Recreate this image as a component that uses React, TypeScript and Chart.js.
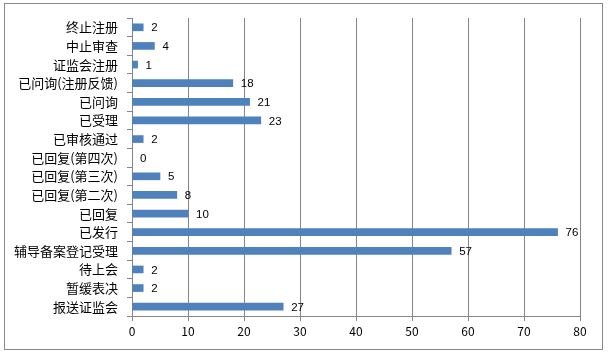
import React, { useEffect, useRef } from "react";
import { Chart, registerables } from "chart.js";

Chart.register(...registerables);

const categories = [
  "终止注册",
  "中止审查",
  "证监会注册",
  "已问询(注册反馈)",
  "已问询",
  "已受理",
  "已审核通过",
  "已回复(第四次)",
  "已回复(第三次)",
  "已回复(第二次)",
  "已回复",
  "已发行",
  "辅导备案登记受理",
  "待上会",
  "暂缓表决",
  "报送证监会",
];
const values = [2, 4, 1, 18, 21, 23, 2, 0, 5, 8, 10, 76, 57, 2, 2, 27];
const xTicks = [0, 10, 20, 30, 40, 50, 60, 70, 80];

const FONT = "'Noto Sans CJK SC', 'Liberation Sans', sans-serif";

const labelPlugin = {
  id: "barLabels",
  afterDatasetsDraw(chart: any) {
    const ctx = chart.ctx;
    const meta = chart.getDatasetMeta(0);
    ctx.save();
    ctx.font = "11.5px 'Liberation Sans', Arial, sans-serif";
    ctx.fillStyle = "#000";
    ctx.textAlign = "left";
    ctx.textBaseline = "middle";
    meta.data.forEach((bar: any, i: number) => {
      ctx.fillText(String(values[i]), bar.x + 8, bar.y + 1);
    });
    ctx.restore();
  },
};

export default function App() {
  const ref = useRef<HTMLCanvasElement>(null);
  useEffect(() => {
    document.body.style.margin = "0";
    const chart = new Chart(ref.current!, {
      type: "bar",
      data: {
        labels: categories,
        datasets: [
          {
            data: values,
            backgroundColor: "#4F81BD",
            barThickness: 7,
          },
        ],
      },
      options: {
        indexAxis: "y",
        animation: false,
        responsive: false,
        maintainAspectRatio: false,
        layout: { padding: { top: 18, right: 29, bottom: 0, left: 0 } },
        plugins: { legend: { display: false }, tooltip: { enabled: false } },
        scales: {
          x: {
            min: 0,
            max: 80,
            afterFit: (s: any) => {
              s.height = 42;
            },
            afterBuildTicks: (s: any) => {
              s.ticks = xTicks.map((v) => ({ value: v }));
            },
            grid: {
              color: "#868686",
              lineWidth: 1,
              tickLength: 5,
              drawTicks: true,
            },
            border: { color: "#868686", width: 1 },
            ticks: {
              color: "#000",
              font: { size: 12, family: FONT },
              padding: 3,
            },
          },
          y: {
            afterFit: (s: any) => {
              s.width = 132;
            },
            grid: {
              drawOnChartArea: false,
              drawTicks: true,
              tickLength: 5,
              color: "#868686",
              offset: true,
            },
            border: { color: "#868686", width: 1 },
            ticks: {
              color: "#000",
              font: { size: 13, family: FONT },
              padding: 9,
              autoSkip: false,
            },
          },
        },
      },
      plugins: [labelPlugin],
    });
    return () => chart.destroy();
  }, []);
  return (
    <div style={{ position: "relative", width: 609, height: 358, background: "#fff" }}>
      <div
        style={{
          position: "absolute",
          left: 4,
          top: 3,
          width: 599,
          height: 347,
          border: "1px solid #888",
          boxSizing: "border-box",
        }}
      />
      <canvas
        ref={ref}
        width={609}
        height={358}
        style={{ position: "absolute", left: 0, top: 0, width: 609, height: 358 }}
      />
    </div>
  );
}
